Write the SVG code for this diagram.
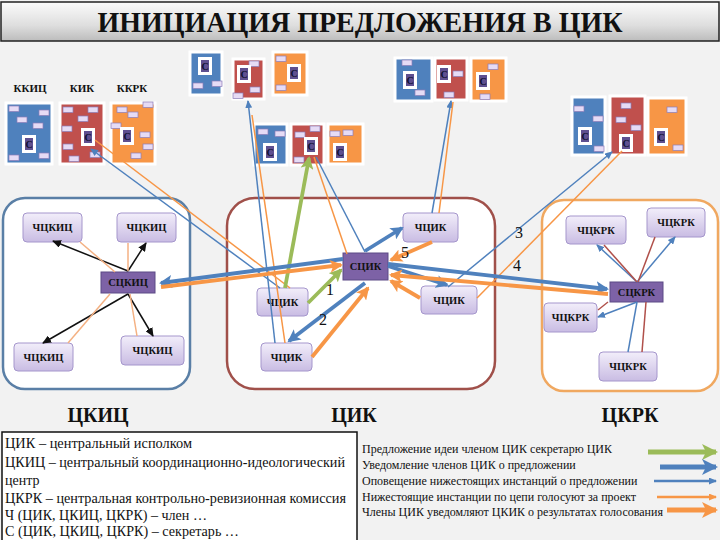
<svg xmlns="http://www.w3.org/2000/svg" xmlns:xlink="http://www.w3.org/1999/xlink" width="720" height="540" viewBox="0 0 720 540">
<style>
.bg{fill:#f2f2f2}
.gb{fill:#4f81bd;stroke:#fff;stroke-width:3}
.gr{fill:#c0504d;stroke:#fff;stroke-width:3}
.go{fill:#f79646;stroke:#fff;stroke-width:3}
.m{fill:#e6dbf5;stroke:#8a7cb8;stroke-width:0.7}
.cont{fill:#fff;stroke-width:2.5}
.nd{fill:url(#lav);stroke:#a596cc;stroke-width:1}
.sn{fill:#7d62a6;stroke:#5c4a86;stroke-width:1}
.f{font-family:"Liberation Serif","Times New Roman","DejaVu Serif","Noto Serif",serif}
.nt{font-weight:bold;font-size:10.5px;text-anchor:middle;fill:#111}
.lbl{font-weight:bold;font-size:11px;text-anchor:middle;fill:#111}
.big{font-weight:bold;font-size:20px;text-anchor:middle;fill:#111}
.num{font-size:16px;text-anchor:middle;fill:#111}
.lg{font-size:14px;fill:#111}
.lg2{font-size:12px;fill:#111}
.blk{stroke:#111;stroke-width:1.5;fill:none}
.lor{stroke:#f4b183;stroke-width:1.5;fill:none}
.tb{stroke:#4f81bd;stroke-width:1.5;fill:none}
.to{stroke:#f79646;stroke-width:1.5;fill:none}
.tr{stroke:#b0504a;stroke-width:1.5;fill:none}
.kb{stroke:#4f81bd;stroke-width:3.8;fill:none}
.ko{stroke:#f79646;stroke-width:3.8;fill:none}
.kg{stroke:#9bbb59;stroke-width:3.8;fill:none}
</style>
<defs>
<linearGradient id="tg" x1="0" y1="0" x2="0" y2="1">
<stop offset="0" stop-color="#fbfbfb"/>
<stop offset="0.6" stop-color="#dedede"/>
<stop offset="1" stop-color="#bcbcbc"/>
</linearGradient>
<linearGradient id="lav" x1="0" y1="0" x2="0" y2="1">
<stop offset="0" stop-color="#f2eefa"/>
<stop offset="1" stop-color="#c9bce3"/>
</linearGradient>
<g id="cbox">
<rect x="0" y="0" width="14" height="18" fill="#fff"/>
<rect x="3" y="3" width="8" height="12" fill="#5e4f90"/>
<text class="f" x="7" y="13" font-weight="bold" font-size="10" text-anchor="middle" fill="#10102e">С</text>
</g>
<marker id="aBk" markerUnits="userSpaceOnUse" markerWidth="9" markerHeight="8" viewBox="0 0 9 8" refX="8" refY="4" orient="auto"><path d="M0,0 L9,4 L0,8 z" fill="#111"/></marker>
<marker id="aTb" markerUnits="userSpaceOnUse" markerWidth="8" markerHeight="7" viewBox="0 0 8 7" refX="7" refY="3.5" orient="auto"><path d="M0,0 L8,3.5 L0,7 z" fill="#4f81bd"/></marker>
<marker id="aTo" markerUnits="userSpaceOnUse" markerWidth="8" markerHeight="7" viewBox="0 0 8 7" refX="7" refY="3.5" orient="auto"><path d="M0,0 L8,3.5 L0,7 z" fill="#f79646"/></marker>
<marker id="aKb" markerUnits="userSpaceOnUse" markerWidth="13" markerHeight="13" viewBox="0 0 13 13" refX="11" refY="6.5" orient="auto"><path d="M0,0 L13,6.5 L0,13 L3,6.5 z" fill="#4f81bd"/></marker>
<marker id="aKo" markerUnits="userSpaceOnUse" markerWidth="13" markerHeight="13" viewBox="0 0 13 13" refX="11" refY="6.5" orient="auto"><path d="M0,0 L13,6.5 L0,13 L3,6.5 z" fill="#f79646"/></marker>
<marker id="aKg" markerUnits="userSpaceOnUse" markerWidth="13" markerHeight="13" viewBox="0 0 13 13" refX="11" refY="6.5" orient="auto"><path d="M0,0 L13,6.5 L0,13 L3,6.5 z" fill="#9bbb59"/></marker>
<marker id="lKb" markerUnits="userSpaceOnUse" markerWidth="16" markerHeight="16" viewBox="0 0 16 16" refX="14" refY="8" orient="auto"><path d="M0,0 L16,8 L0,16 L4,8 z" fill="#4f81bd"/></marker>
<marker id="lKo" markerUnits="userSpaceOnUse" markerWidth="16" markerHeight="16" viewBox="0 0 16 16" refX="14" refY="8" orient="auto"><path d="M0,0 L16,8 L0,16 L4,8 z" fill="#f79646"/></marker>
<marker id="lKg" markerUnits="userSpaceOnUse" markerWidth="16" markerHeight="16" viewBox="0 0 16 16" refX="14" refY="8" orient="auto"><path d="M0,0 L16,8 L0,16 L4,8 z" fill="#9bbb59"/></marker>
</defs>

<rect class="bg" x="0" y="0" width="720" height="540"/>

<g id="title">
<rect x="1" y="2" width="718" height="39" fill="url(#tg)" stroke="#222" stroke-width="1.5"/>
<text class="f" x="360" y="32" font-weight="bold" font-size="30" text-anchor="middle" fill="#111" textLength="525" lengthAdjust="spacingAndGlyphs">ИНИЦИАЦИЯ ПРЕДЛОЖЕНИЯ В ЦИК</text>
</g>

<g id="groupA">
<text class="f lbl" x="30" y="92">ККИЦ</text>
<text class="f lbl" x="82" y="92">КИК</text>
<text class="f lbl" x="132" y="92">ККРК</text>
<rect class="gb" x="6" y="103" width="46" height="61"/>
<rect class="gr" x="60" y="103" width="44" height="61"/>
<rect class="go" x="111" y="103" width="44" height="61"/>
<rect class="m" x="9" y="106" width="10" height="5.5"/><rect class="m" x="39" y="110" width="10" height="5.5"/><rect class="m" x="17" y="117" width="10" height="5.5"/><rect class="m" x="33" y="123" width="10" height="5.5"/><rect class="m" x="9" y="155" width="10" height="5.5"/><rect class="m" x="39" y="153" width="10" height="5.5"/>
<rect class="m" x="63" y="107" width="10" height="5.5"/><rect class="m" x="88" y="107" width="10" height="5.5"/><rect class="m" x="78" y="116" width="10" height="5.5"/><rect class="m" x="62" y="126" width="10" height="5.5"/><rect class="m" x="63" y="144" width="10" height="5.5"/><rect class="m" x="90" y="152" width="10" height="5.5"/><rect class="m" x="69" y="156" width="10" height="5.5"/>
<rect class="m" x="143" y="102" width="10" height="5.5"/><rect class="m" x="117" y="107" width="10" height="5.5"/><rect class="m" x="128" y="112" width="10" height="5.5"/><rect class="m" x="111" y="123" width="10" height="5.5"/><rect class="m" x="140" y="132" width="10" height="5.5"/><rect class="m" x="143" y="144" width="10" height="5.5"/><rect class="m" x="131" y="153" width="10" height="5.5"/>
<use xlink:href="#cbox" x="22" y="135"/>
<use xlink:href="#cbox" x="81" y="128"/>
<use xlink:href="#cbox" x="120" y="127"/>
</g>

<g id="groupB">
<rect class="gb" x="190" y="52" width="32" height="43"/>
<rect class="gr" x="233" y="59" width="31" height="40"/>
<rect class="go" x="273" y="52" width="34" height="43"/>
<rect class="m" x="193" y="83" width="10" height="5.5"/><rect class="m" x="212" y="81" width="10" height="5.5"/>
<rect class="m" x="249" y="61" width="10" height="5.5"/><rect class="m" x="250" y="87" width="10" height="5.5"/><rect class="m" x="233" y="93" width="10" height="5.5"/>
<rect class="m" x="276" y="56" width="10" height="5.5"/><rect class="m" x="276" y="85" width="10" height="5.5"/>
<use xlink:href="#cbox" x="198" y="57"/>
<use xlink:href="#cbox" x="237" y="65"/>
<use xlink:href="#cbox" x="287" y="64"/>
</g>

<g id="groupC">
<rect class="gb" x="254" y="124" width="33" height="41"/>
<rect class="gr" x="291" y="124" width="33" height="41"/>
<rect class="go" x="328" y="124" width="35" height="40"/>
<rect class="m" x="258" y="129" width="10" height="5.5"/><rect class="m" x="275" y="131" width="10" height="5.5"/>
<rect class="m" x="295" y="132" width="10" height="5.5"/><rect class="m" x="310" y="126" width="10" height="5.5"/><rect class="m" x="294" y="157" width="10" height="5.5"/>
<rect class="m" x="330" y="131" width="10" height="5.5"/><rect class="m" x="343" y="130" width="10" height="5.5"/>
<use xlink:href="#cbox" x="263" y="143"/>
<use xlink:href="#cbox" x="304" y="137"/>
<use xlink:href="#cbox" x="333" y="143"/>
</g>

<g id="groupD">
<rect class="gb" x="395" y="58" width="37" height="43"/>
<rect class="gr" x="435" y="58" width="32" height="42"/>
<rect class="go" x="471" y="58" width="35" height="43"/>
<rect class="m" x="402" y="60" width="10" height="5.5"/><rect class="m" x="415" y="90" width="10" height="5.5"/>
<rect class="m" x="453" y="71" width="10" height="5.5"/><rect class="m" x="444" y="92" width="10" height="5.5"/>
<rect class="m" x="488" y="64" width="10" height="5.5"/><rect class="m" x="480" y="94" width="10" height="5.5"/>
<use xlink:href="#cbox" x="403" y="71"/>
<use xlink:href="#cbox" x="437" y="65"/>
<use xlink:href="#cbox" x="476" y="72"/>
</g>

<g id="groupE">
<rect class="gb" x="572" y="97" width="33" height="58"/>
<rect class="gr" x="610" y="96" width="35" height="59"/>
<rect class="go" x="648" y="98" width="38" height="57"/>
<rect class="m" x="574" y="106" width="10" height="5.5"/><rect class="m" x="593" y="116" width="10" height="5.5"/><rect class="m" x="594" y="146" width="10" height="5.5"/>
<rect class="m" x="621" y="103" width="10" height="5.5"/><rect class="m" x="616" y="117" width="10" height="5.5"/><rect class="m" x="631" y="125" width="10" height="5.5"/>
<rect class="m" x="667" y="107" width="10" height="5.5"/><rect class="m" x="673" y="145" width="10" height="5.5"/>
<use xlink:href="#cbox" x="578" y="127"/>
<use xlink:href="#cbox" x="619" y="134"/>
<use xlink:href="#cbox" x="654" y="128"/>
</g>

<g id="ckic">
<rect class="cont" x="3" y="198" width="187" height="191" rx="22" stroke="#5a7fa6"/>
<text class="f big" x="98" y="422">ЦКИЦ</text>
</g>
<g id="cik">
<rect class="cont" x="227" y="198" width="268" height="191" rx="28" stroke="#a0504a"/>
<text class="f big" x="354" y="422">ЦИК</text>
</g>
<g id="ckrk">
<rect class="cont" x="542" y="200" width="176" height="191" rx="22" stroke="#f0a860"/>
<text class="f big" x="630" y="422">ЦКРК</text>
</g>

<g id="n-chckic1"><rect class="nd" x="23" y="213" width="59" height="29" rx="4"/><text class="f nt" x="52.5" y="231">ЧЦКИЦ</text></g>
<g id="n-chckic2"><rect class="nd" x="117" y="213" width="59" height="29" rx="4"/><text class="f nt" x="146.5" y="231">ЧЦКИЦ</text></g>
<g id="n-sckic"><rect class="sn" x="101" y="272" width="54" height="21"/><text class="f nt" x="128" y="286">СЦКИЦ</text></g>
<g id="n-chckic3"><rect class="nd" x="14" y="343" width="59" height="28" rx="4"/><text class="f nt" x="43.5" y="361">ЧЦКИЦ</text></g>
<g id="n-chckic4"><rect class="nd" x="121" y="336" width="63" height="29" rx="4"/><text class="f nt" x="152.5" y="354">ЧЦКИЦ</text></g>

<g id="n-chcik1"><rect class="nd" x="403" y="213" width="55" height="29" rx="4"/><text class="f nt" x="430.5" y="231">ЧЦИК</text></g>
<g id="n-scik"><rect class="sn" x="343" y="253" width="45" height="27"/><text class="f nt" x="365.5" y="270">СЦИК</text></g>
<g id="n-chcik2"><rect class="nd" x="257" y="288" width="51" height="28" rx="4"/><text class="f nt" x="282.5" y="306">ЧЦИК</text></g>
<g id="n-chcik3"><rect class="nd" x="421" y="286" width="56" height="28" rx="4"/><text class="f nt" x="449" y="304">ЧЦИК</text></g>
<g id="n-chcik4"><rect class="nd" x="261" y="343" width="51" height="28" rx="4"/><text class="f nt" x="286.5" y="361">ЧЦИК</text></g>

<g id="n-chckrk1"><rect class="nd" x="566" y="216" width="60" height="28" rx="4"/><text class="f nt" x="596" y="234">ЧЦКРК</text></g>
<g id="n-chckrk2"><rect class="nd" x="647" y="208" width="58" height="29" rx="4"/><text class="f nt" x="676" y="226">ЧЦКРК</text></g>
<g id="n-sckrk"><rect class="sn" x="610" y="282" width="53" height="20"/><text class="f nt" x="636.5" y="296">СЦКРК</text></g>
<g id="n-chckrk3"><rect class="nd" x="544" y="303" width="53" height="29" rx="4"/><text class="f nt" x="570.5" y="321">ЧЦКРК</text></g>
<g id="n-chckrk4"><rect class="nd" x="599" y="352" width="58" height="29" rx="4"/><text class="f nt" x="628" y="370">ЧЦКРК</text></g>

<g id="connectors">
<path class="blk" d="M128,271 L53,241" marker-end="url(#aBk)"/>
<path class="blk" d="M128,271 L146,243" marker-end="url(#aBk)"/>
<path class="blk" d="M128,294 L43,343" marker-end="url(#aBk)"/>
<path class="blk" d="M128,294 L153,336" marker-end="url(#aBk)"/>
<path class="lor" d="M80,242 L115,272"/>
<path class="lor" d="M128,243 L128,271"/>
<path class="lor" d="M68,343 L110,294"/>
<path class="lor" d="M137,336 L130,294"/>

<path class="tb" d="M637,282 L597,245" marker-end="url(#aTb)"/>
<path class="tb" d="M637,282 L675,237" marker-end="url(#aTb)"/>
<path class="tb" d="M637,302 L598,317" marker-end="url(#aTb)"/>
<path class="tb" d="M637,302 L628,352"/>
<path class="tr" d="M604,245 L637,282"/>
<path class="tr" d="M655,237 L638,282"/>
<path class="tr" d="M598,310 L608,302"/>
<path class="tr" d="M642,352 L646,302"/>

<path class="tb" d="M280,288 L91,149" marker-end="url(#aTb)"/>
<path class="to" d="M290,288 L95,140"/>
<path class="tb" d="M275,343 L248,101" marker-end="url(#aTb)"/>
<path class="to" d="M285,343 L252,115"/>
<path class="tb" d="M365,252 L316,157"/>
<path class="to" d="M347,254 L314,157"/>
<path class="tb" d="M432,213 L451,101" marker-end="url(#aTb)"/>
<path class="to" d="M439,213 L453,102"/>
<path class="tb" d="M448,287 L612,152" marker-end="url(#aTb)"/>
<path class="to" d="M477,298 L622,151"/>

<path class="kg" d="M285,288 L309,158" marker-end="url(#aKg)"/>
<path class="kg" d="M308,303 L341,270" marker-end="url(#aKg)"/>

<path class="kb" d="M365,283 L289,341" marker-end="url(#aKb)"/>
<path class="kb" d="M365,251 L402,228" marker-end="url(#aKb)"/>
<path class="kb" d="M388,266 L447,285" marker-end="url(#aKb)"/>
<path class="kb" d="M343,259 L161,283" marker-end="url(#aKb)"/>
<path class="kb" d="M388,264 L607,289" marker-end="url(#aKb)"/>

<path class="ko" d="M312,357 L368,288" marker-end="url(#aKo)"/>
<path class="ko" d="M432,242 L391,260" marker-end="url(#aKo)"/>
<path class="ko" d="M420,298 L391,281" marker-end="url(#aKo)"/>
<path class="ko" d="M161,287 L341,265" marker-end="url(#aKo)"/>
<path class="ko" d="M608,294 L391,275" marker-end="url(#aKo)"/>
</g>

<g id="numbers">
<text class="f num" x="330" y="295">1</text>
<text class="f num" x="323" y="325">2</text>
<text class="f num" x="405" y="258">5</text>
<text class="f num" x="519" y="238">3</text>
<text class="f num" x="517" y="271">4</text>
</g>

<g id="legend-left">
<rect x="2" y="432" width="355" height="112" fill="#fff" stroke="#111" stroke-width="1.5"/>
<text class="f lg" x="5" y="448" textLength="187" lengthAdjust="spacingAndGlyphs">ЦИК – центральный исполком</text>
<text class="f lg" x="5" y="467" textLength="340" lengthAdjust="spacingAndGlyphs">ЦКИЦ – центральный координационно-идеологический</text>
<text class="f lg" x="5" y="485">центр</text>
<text class="f lg" x="5" y="503" textLength="341" lengthAdjust="spacingAndGlyphs">ЦКРК – центральная контрольно-ревизионная комиссия</text>
<text class="f lg" x="5" y="520" textLength="202" lengthAdjust="spacingAndGlyphs">Ч (ЦИК, ЦКИЦ, ЦКРК) – член …</text>
<text class="f lg" x="5" y="536" textLength="234" lengthAdjust="spacingAndGlyphs">С (ЦИК, ЦКИЦ, ЦКРК) – секретарь …</text>
</g>

<g id="legend-right">
<text class="f lg2" x="362" y="453">Предложение идеи членом ЦИК секретарю ЦИК</text>
<text class="f lg2" x="362" y="469">Уведомление членов ЦИК о предложении</text>
<text class="f lg2" x="362" y="485">Оповещение нижестоящих инстанций о предложении</text>
<text class="f lg2" x="362" y="501">Нижестоящие инстанции по цепи голосуют за проект</text>
<text class="f lg2" x="362" y="516">Члены ЦИК уведомляют ЦКИК о результатах голосования</text>
<path d="M648,452 L716,452" stroke="#9bbb59" stroke-width="5" marker-end="url(#lKg)"/>
<path d="M660,467 L716,467" stroke="#4f81bd" stroke-width="5" marker-end="url(#lKb)"/>
<path d="M654,481 L716,481" stroke="#4f81bd" stroke-width="2.5" marker-end="url(#aTb)"/>
<path d="M657,497 L716,497" stroke="#f79646" stroke-width="2.5" marker-end="url(#aTo)"/>
<path d="M667,510 L716,510" stroke="#f79646" stroke-width="5" marker-end="url(#lKo)"/>
</g>
</svg>
